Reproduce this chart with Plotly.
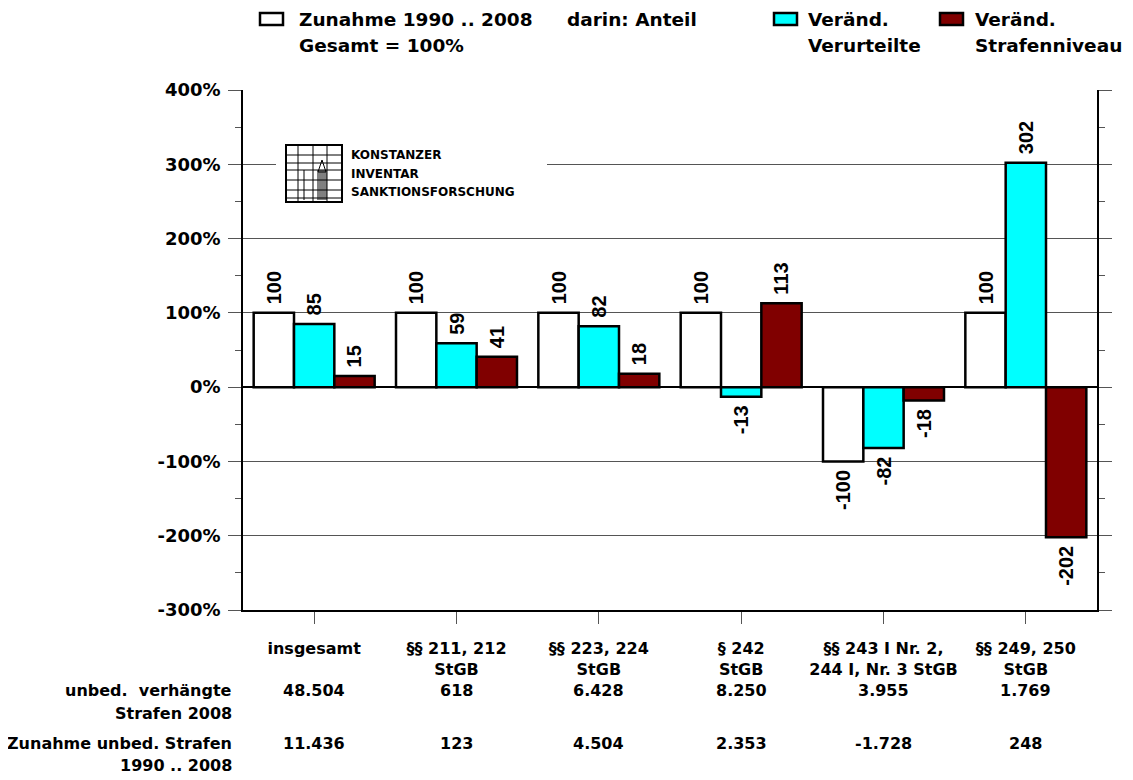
import plotly.graph_objects as go

# --- data ---
categories = ["insgesamt", "§§ 211, 212<br>StGB", "§§ 223, 224<br>StGB", "§ 242<br>StGB",
              "§§ 243 I Nr. 2,<br>244 I, Nr. 3 StGB", "§§ 249, 250<br>StGB"]
gesamt = [100, 100, 100, 100, -100, 100]
verurteilte = [85, 59, 82, -13, -82, 302]
strafenniveau = [15, 41, 18, 113, -18, -202]
verhaengt_2008 = ["48.504", "618", "6.428", "8.250", "3.955", "1.769"]
zunahme_strafen = ["11.436", "123", "4.504", "2.353", "-1.728", "248"]
y_ticks = [-300, -200, -100, 0, 100, 200, 300, 400]

FONT = "DejaVu Sans"
# page has an 8px body margin, so the figure is a bit smaller than the window
OFF = 8
W, H = 1133 - OFF, 780 - OFF
# plot area in screen pixels
L, R, T, B = 243, 1097, 90, 610


def px(x):
    # screen pixel -> paper x
    return (x - L) / (R - L)


def py(y):
    # screen pixel -> paper y
    return (B - y) / (B - T)


def bar_label(v):
    # a non-breaking space on the bar side keeps the label off the bar end
    return f"\u00a0{v}" if v >= 0 else f"{v}\u00a0"


label_font = dict(family="Liberation Sans", size=20, color="black", weight="bold")
xidx = list(range(len(categories)))

fig = go.Figure()
for vals, color in [(gesamt, "white"), (verurteilte, "#00FFFF"), (strafenniveau, "#800000")]:
    fig.add_trace(go.Bar(
        x=xidx, y=vals, marker=dict(color=color, line=dict(color="black", width=2.5)),
        text=[bar_label(v) for v in vals], textposition="outside", textangle=-90,
        constraintext="none", cliponaxis=False, textfont=label_font, showlegend=False,
    ))

shapes = []
annotations = []

# legend (drawn by hand, like the original)
legend_font = dict(family=FONT, size=18.5, color="black", weight="bold")
legend_items = [
    (260, "white", 297, ["Zunahme 1990 .. 2008", "Gesamt = 100%"]),
    (None, None, 565, ["darin: Anteil"]),
    (774, "#00FFFF", 806, ["Veränd.", "Verurteilte"]),
    (940, "#800000", 973, ["Veränd.", "Strafenniveau"]),
]
for sx, col, tx, lines in legend_items:
    if sx is not None:
        shapes.append(dict(type="rect", xref="paper", yref="paper",
                           x0=px(sx), x1=px(sx + 23), y0=py(25), y1=py(13),
                           fillcolor=col, line=dict(color="black", width=2.5)))
    for i, t in enumerate(lines):
        annotations.append(dict(xref="paper", yref="paper", x=px(tx), y=py(19 + 26 * i),
                                text=t, showarrow=False, xanchor="left", yanchor="middle",
                                font=legend_font))

# gap in the 300% line behind the logo
shapes.append(dict(type="rect", xref="paper", yref="paper", x0=px(276), x1=px(547),
                   y0=py(168), y1=py(158), fillcolor="white", line=dict(width=0), layer="above"))

# logo box
lx0, lx1, ly0, ly1 = 286, 342, 145, 202
shapes.append(dict(type="rect", xref="paper", yref="paper", x0=px(lx0), x1=px(lx1),
                   y0=py(ly1), y1=py(ly0), line=dict(color="black", width=2), layer="above"))
for vx in [298, 313, 327]:
    shapes.append(dict(type="line", xref="paper", yref="paper", x0=px(vx), x1=px(vx),
                       y0=py(ly1), y1=py(ly0), line=dict(color="black", width=1), layer="above"))
for hy in [155, 163, 170, 180, 190, 198]:
    shapes.append(dict(type="line", xref="paper", yref="paper", x0=px(lx0), x1=px(lx1),
                       y0=py(hy), y1=py(hy), line=dict(color="black", width=1), layer="above"))
for vx in [304, 318, 320, 322, 324, 326]:
    shapes.append(dict(type="line", xref="paper", yref="paper", x0=px(vx), x1=px(vx),
                       y0=py(200), y1=py(170), line=dict(color="black", width=1), layer="above"))
shapes.append(dict(type="path", xref="paper", yref="paper", layer="above",
                   path=f"M {px(318)},{py(172)} L {px(322)},{py(160)} L {px(326)},{py(172)} Z",
                   line=dict(color="black", width=1)))
for i, t in enumerate(["KONSTANZER", "INVENTAR", "SANKTIONSFORSCHUNG"]):
    annotations.append(dict(xref="paper", yref="paper", x=px(349), y=py(155 + 18.5 * i),
                            text=t, showarrow=False, xanchor="left", yanchor="middle",
                            font=dict(family=FONT, size=12, color="black", weight="bold")))

# table below the chart
row_font = dict(family=FONT, size=16, color="black", weight="bold")
for i, t in enumerate(["unbed.\u00a0\u00a0verhängte", "Strafen 2008"]):
    annotations.append(dict(xref="paper", yref="paper", x=px(234), y=py(690 + 23 * i), text=t,
                            showarrow=False, xanchor="right", yanchor="middle", font=row_font))
for i, t in enumerate(["Zunahme unbed. Strafen", "1990 .. 2008"]):
    annotations.append(dict(xref="paper", yref="paper", x=px(234), y=py(743 + 22 * i), text=t,
                            showarrow=False, xanchor="right", yanchor="middle", font=row_font))
for i in xidx:
    annotations.append(dict(xref="x", yref="paper", x=i, y=py(690), text=verhaengt_2008[i],
                            showarrow=False, xanchor="center", yanchor="middle", font=row_font))
    annotations.append(dict(xref="x", yref="paper", x=i, y=py(743), text=zunahme_strafen[i],
                            showarrow=False, xanchor="center", yanchor="middle", font=row_font))

fig.update_layout(
    width=W, height=H,
    margin=dict(l=L - OFF, r=W - (R - OFF), t=T - OFF, b=H - (B - OFF)),
    paper_bgcolor="white", plot_bgcolor="white",
    barmode="group", bargap=0.15, bargroupgap=0,
    shapes=shapes, annotations=annotations,
    xaxis=dict(
        range=[-0.5, 5.5], tickmode="array", tickvals=xidx, ticktext=categories,
        ticks="outside", ticklen=12, tickcolor="#555555", tickwidth=1,
        ticklabelstandoff=11,
        showline=True, linecolor="black", linewidth=1.5, mirror=False,
        showgrid=False, zeroline=False,
        tickfont=dict(family=FONT, size=16, color="black", weight="bold"),
    ),
    yaxis=dict(
        range=[-300, 400], tickmode="array", tickvals=y_ticks,
        ticktext=[f"{v}%" for v in y_ticks],
        ticks="outside", ticklen=13, tickcolor="#555555", tickwidth=1,
        ticklabelstandoff=4,
        minor=dict(dtick=50, tick0=0, ticks="outside", ticklen=6, tickcolor="#555555",
                   showgrid=False),
        showline=True, linecolor="black", linewidth=1.5, mirror="ticks",
        showgrid=True, gridcolor="#555555", gridwidth=1,
        zeroline=True, zerolinecolor="black", zerolinewidth=1.5,
        tickfont=dict(family=FONT, size=18, color="black", weight="bold"),
    ),
)

fig.write_html("out.html")
